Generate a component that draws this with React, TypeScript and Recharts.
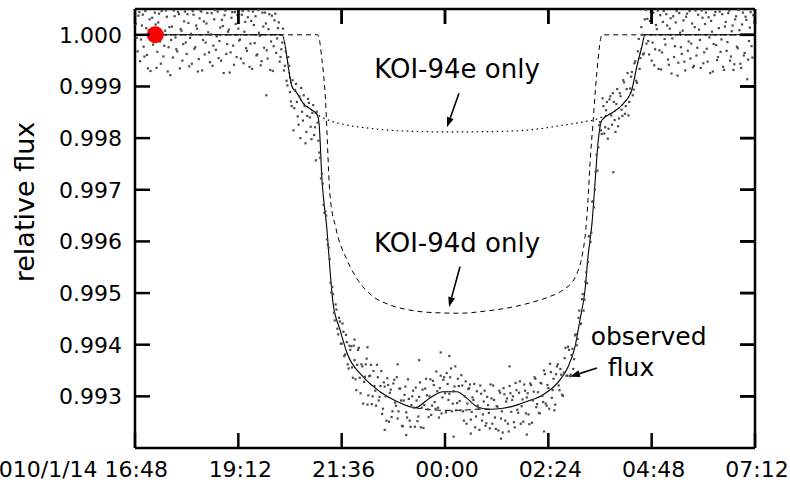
import {
  ComposedChart,
  Line,
  Scatter,
  XAxis,
  YAxis,
  ReferenceLine,
  ReferenceDot,
} from 'recharts';

// time in hours from 2010/1/14 00:00, flux relative
const xTicks = [16.8, 19.2, 21.6, 24, 26.4, 28.8, 31.2];
const xTickLabels = ['2010/1/14 16:48', '19:12', '21:36', '00:00', '02:24', '04:48', '07:12'];
const yTicks = [0.993, 0.994, 0.995, 0.996, 0.997, 0.998, 0.999, 1.0];

// model curves
const observedModel = [
  [16.8, 1.0], [20.214, 1.0], [20.446, 0.999], [20.563, 0.99887], [20.702, 0.99868],
  [20.865, 0.99857], [21.027, 0.99846], [21.074, 0.99829], [21.143, 0.99719],
  [21.259, 0.99622], [21.329, 0.99545], [21.399, 0.99481], [21.561, 0.99429],
  [21.724, 0.99384], [22.096, 0.99338], [22.49, 0.99309], [22.885, 0.9929],
  [23.303, 0.99278], [23.651, 0.99297], [23.953, 0.99309], [24.279, 0.99309],
  [24.511, 0.99296], [24.743, 0.9928], [25.045, 0.99275], [25.347, 0.99277],
  [25.626, 0.99282], [25.904, 0.9929], [26.276, 0.99303], [26.671, 0.99332],
  [26.857, 0.99357], [27.019, 0.99396], [27.135, 0.99448], [27.252, 0.99506],
  [27.321, 0.9957], [27.414, 0.99635], [27.484, 0.99713], [27.553, 0.9979],
  [27.646, 0.99835], [27.902, 0.9985], [28.134, 0.99866], [28.343, 0.99895],
  [28.459, 0.9994], [28.575, 0.99978], [28.645, 1.0], [31.2, 1.0],
];

const noCrossingModel = [
  [23.303, 0.99278], [23.65, 0.99274], [24.0, 0.99273], [24.35, 0.99273],
  [24.74, 0.99275], [25.045, 0.99275],
];

const koi94dModel = [
  [16.8, 1.0], [21.05, 1.0], [21.143, 0.99951], [21.213, 0.9989], [21.329, 0.9969],
  [21.468, 0.99625], [21.724, 0.99564], [21.979, 0.99525], [22.305, 0.99495],
  [22.722, 0.99477], [23.187, 0.99467], [23.768, 0.99462], [24.348, 0.99461],
  [24.929, 0.99465], [25.51, 0.99472], [25.974, 0.99481], [26.392, 0.99492],
  [26.741, 0.99506], [27.019, 0.9953], [27.252, 0.99608], [27.321, 0.9968],
  [27.368, 0.99751], [27.437, 0.99829], [27.53, 0.9993], [27.646, 1.0], [31.2, 1.0],
];

const koi94eModel = [
  [16.8, 1.0], [20.214, 1.0], [20.446, 0.999], [20.563, 0.99887], [20.702, 0.99868],
  [20.865, 0.99857], [21.027, 0.99846], [21.259, 0.99836], [21.677, 0.99826],
  [22.258, 0.99819], [22.955, 0.99814], [24.116, 0.99812], [25.277, 0.99813],
  [25.974, 0.99816], [26.741, 0.99825], [27.252, 0.99832], [27.53, 0.99837],
  [27.646, 0.99841], [27.902, 0.9985], [28.134, 0.99866], [28.343, 0.99895],
  [28.459, 0.9994], [28.575, 0.99978], [28.645, 1.0], [31.2, 1.0],
];

// observed points
const beforeTransit = [
  [16.82, 1.00021], [16.86, 0.99968], [16.9, 1.00044], [16.94, 0.99991], [16.98, 1.00039],
  [17.02, 0.99958], [17.06, 1.00013], [17.1, 0.99935], [17.14, 1.0003], [17.18, 1.00004],
  [17.22, 0.99981], [17.26, 1.00043], [17.3, 0.99936], [17.34, 1.00024], [17.38, 0.99987],
  [17.42, 1.00046], [17.46, 0.99958], [17.5, 1.00008], [17.54, 1.00035], [17.58, 0.99976],
  [17.62, 0.99922], [17.66, 1.00016], [17.7, 1.00047], [17.74, 0.99995], [17.78, 0.99968],
  [17.82, 1.0004], [17.86, 1.00011], [17.9, 0.9995], [17.94, 1.00026], [17.98, 0.99985],
  [18.02, 1.0004], [18.06, 0.99939], [18.1, 1.00002], [18.14, 1.00046], [18.18, 0.99973],
  [18.22, 1.00018], [18.26, 0.99929], [18.3, 1.00032], [18.34, 1.00045], [18.38, 0.9999],
  [18.42, 0.99962], [18.46, 1.00022], [18.5, 1.00005], [18.54, 0.99947], [18.58, 1.00042],
  [18.62, 0.99979], [18.66, 1.00048], [18.7, 0.99997], [18.74, 0.99955], [18.78, 1.00014],
  [18.82, 1.00029], [18.86, 0.99926], [18.9, 1.00047], [18.94, 0.99982], [18.98, 1.0001],
  [19.02, 0.99966], [19.06, 1.00044], [19.1, 0.99942], [19.14, 1.00021], [19.18, 1.00038],
  [19.22, 0.99989], [19.26, 0.99954], [19.3, 1.00046], [19.34, 1.00006], [19.38, 0.99974],
  [19.42, 1.00034], [19.46, 0.99938], [19.5, 1.00027], [19.54, 1.00045], [19.58, 0.99984],
  [19.62, 0.9996], [19.66, 1.00048], [19.7, 0.99998], [19.74, 0.99949], [19.78, 1.00016],
  [19.82, 1.00043], [19.86, 0.9997], [19.9, 1.00011], [19.94, 0.99932], [19.98, 1.00037],
  [20.02, 0.99978], [20.06, 1.00041], [20.1, 0.99993], [20.14, 1.00024], [20.18, 0.99957],
  [16.84, 0.99994], [16.88, 1.00037], [16.92, 0.99949], [16.96, 1.00018], [17.0, 0.99977],
  [17.04, 1.00046], [17.08, 0.99961], [17.12, 1.00009], [17.16, 0.9993], [17.2, 1.00033],
  [17.24, 0.99986], [17.28, 1.0002], [17.32, 0.99967], [17.36, 1.00041], [17.4, 0.99944],
  [17.44, 1.00003], [17.48, 0.99979], [17.52, 1.00047], [17.56, 0.99929], [17.6, 1.00015],
  [17.64, 0.9999], [17.68, 0.99956], [17.72, 1.00036], [17.76, 0.99972], [17.8, 1.00044],
  [17.84, 0.99935], [17.88, 1.00008], [17.92, 0.99982], [17.96, 1.00045], [18.0, 0.99963],
  [18.04, 1.00023], [18.08, 0.99994], [18.12, 0.99944], [18.16, 1.00039], [18.2, 0.99976],
  [18.24, 1.00012], [18.28, 0.99953], [18.32, 1.00047], [18.36, 0.99931], [18.4, 1.00026],
  [18.44, 0.99985], [18.48, 1.00042], [18.52, 0.99966], [18.56, 1.00001], [18.6, 0.9994],
  [18.64, 1.0003], [18.68, 0.99971], [18.72, 1.00045], [18.76, 0.99988], [18.8, 0.9995],
  [18.84, 1.00017], [18.88, 1.00038], [18.92, 0.99963], [18.96, 1.00006], [19.0, 0.99927],
  [19.04, 1.00033], [19.08, 0.99979], [19.12, 1.00044], [19.16, 0.99957], [19.2, 1.00012],
  [19.24, 0.99991], [19.28, 1.00039], [19.32, 0.99945], [19.36, 1.00025], [19.4, 0.99969],
  [19.44, 1.00047], [19.48, 0.99983], [19.52, 0.99934], [19.56, 1.00019], [19.6, 1.00036],
  [19.64, 0.99962], [19.68, 1.00004], [19.72, 0.99941], [19.76, 1.00043], [19.8, 0.99975],
  [19.84, 1.00022], [19.88, 0.99954], [19.92, 1.0004], [19.96, 0.99987], [20.0, 0.9993],
  [20.04, 1.00028], [20.08, 0.99965], [20.12, 1.00013], [20.16, 0.99948], [19.85, 0.99883],
];

const ingressPoints = [
  [20.22, 0.99985], [20.26, 0.99931], [20.3, 0.99968], [20.34, 0.99902], [20.38, 0.9994],
  [20.42, 0.99871], [20.46, 0.99912], [20.5, 0.99858], [20.54, 0.99905], [20.58, 0.99842],
  [20.62, 0.99881], [20.66, 0.99897], [20.7, 0.99834], [20.74, 0.99862], [20.78, 0.99812],
  [20.82, 0.99876], [20.86, 0.9984], [20.9, 0.99798], [20.94, 0.99864], [20.98, 0.99821],
  [21.02, 0.99851], [21.06, 0.99795], [21.1, 0.99762], [21.14, 0.99731], [21.18, 0.99671],
  [21.22, 0.99658], [21.26, 0.99604], [21.3, 0.99588], [21.34, 0.9952], [21.38, 0.99512],
  [21.42, 0.99462], [21.46, 0.99478], [21.5, 0.99431], [21.54, 0.99452], [21.58, 0.99402],
  [21.62, 0.99441], [21.66, 0.99378], [21.7, 0.99419], [21.74, 0.99362], [21.78, 0.99398],
  [20.2, 0.99972], [20.24, 1.00012], [20.28, 0.9994], [20.32, 0.99911], [20.36, 0.99957],
  [20.4, 0.99889], [20.44, 0.99862], [20.48, 0.99815], [20.52, 0.99893], [20.56, 0.9987],
  [20.6, 0.99826], [20.64, 0.998], [20.68, 0.99851], [20.72, 0.99883], [20.76, 0.9979],
  [20.8, 0.99843], [20.84, 0.99868], [20.88, 0.99822], [20.92, 0.99849], [20.96, 0.99806],
  [21.0, 0.99757], [21.04, 0.9983], [21.08, 0.99772], [21.12, 0.99722], [21.16, 0.99712],
  [21.2, 0.99655], [21.24, 0.9965], [21.28, 0.99593], [21.32, 0.99566], [21.36, 0.99501],
  [21.4, 0.99498], [21.44, 0.99447], [21.48, 0.99468], [21.52, 0.9942], [21.56, 0.99445],
  [21.6, 0.99402], [21.64, 0.99425], [21.68, 0.99381], [21.72, 0.99405], [21.76, 0.99354],
  [21.8, 0.9939],
];

const bottomPoints = [
  [21.82, 0.99397], [21.86, 0.99336], [21.9, 0.9937], [21.94, 0.99312], [21.98, 0.9939],
  [22.02, 0.99336], [22.06, 0.99362], [22.1, 0.99286], [22.14, 0.99338], [22.18, 0.99373],
  [22.22, 0.99302], [22.26, 0.9934], [22.3, 0.99285], [22.34, 0.99349], [22.38, 0.99311],
  [22.42, 0.99361], [22.46, 0.99292], [22.5, 0.9932], [22.54, 0.99266], [22.58, 0.99327],
  [22.62, 0.993], [22.66, 0.99335], [22.7, 0.99251], [22.74, 0.99313], [22.78, 0.99271],
  [22.82, 0.99332], [22.86, 0.99282], [22.9, 0.99257], [22.94, 0.99315], [22.98, 0.99292],
  [23.02, 0.99242], [23.06, 0.99303], [23.1, 0.99269], [23.14, 0.99333], [23.18, 0.99253],
  [23.22, 0.99283], [23.26, 0.99311], [23.3, 0.99241], [23.34, 0.99292], [23.38, 0.99261],
  [23.42, 0.99327], [23.46, 0.99278], [23.5, 0.99239], [23.54, 0.99315], [23.58, 0.99302],
  [23.62, 0.9926], [23.66, 0.99333], [23.7, 0.99282], [23.74, 0.99322], [23.78, 0.99276],
  [23.82, 0.9931], [23.86, 0.99259], [23.9, 0.9934], [23.94, 0.99298], [23.98, 0.99337],
  [24.02, 0.99269], [24.06, 0.99324], [24.1, 0.99305], [24.14, 0.99354], [24.18, 0.99286],
  [24.22, 0.99319], [24.26, 0.99273], [24.3, 0.99334], [24.34, 0.99291], [24.38, 0.99341],
  [24.42, 0.99271], [24.46, 0.993], [24.5, 0.99247], [24.54, 0.99314], [24.58, 0.99323],
  [24.62, 0.9927], [24.66, 0.99293], [24.7, 0.9924], [24.74, 0.9931], [24.78, 0.99277],
  [24.82, 0.99321], [24.86, 0.99253], [24.9, 0.9929], [24.94, 0.99243], [24.98, 0.99299],
  [25.02, 0.99268], [25.06, 0.99323], [25.1, 0.99247], [25.14, 0.99293], [25.18, 0.99237],
  [25.22, 0.9928], [25.26, 0.99311], [25.3, 0.99257], [25.34, 0.9923], [25.38, 0.99304],
  [25.42, 0.9929], [25.46, 0.99247], [25.5, 0.9932], [25.54, 0.9927], [25.58, 0.993],
  [25.62, 0.9924], [25.66, 0.99312], [25.7, 0.99268], [25.74, 0.99329], [25.78, 0.99281],
  [25.82, 0.99251], [25.86, 0.99311], [25.9, 0.99298], [25.94, 0.99265], [25.98, 0.99325],
  [26.02, 0.99249], [26.06, 0.99309], [26.1, 0.99334], [26.14, 0.99285], [26.18, 0.99268],
  [26.22, 0.99326], [26.26, 0.99301], [26.3, 0.9935], [26.34, 0.99286], [26.38, 0.99322],
  [26.42, 0.99276], [26.46, 0.99347], [26.5, 0.99312], [26.54, 0.99273], [26.58, 0.99343],
  [26.62, 0.99362], [26.66, 0.99312], [26.7, 0.99342], [26.74, 0.99301], [26.78, 0.99374],
  [26.82, 0.9934], [26.86, 0.99396], [26.9, 0.99339], [26.94, 0.9938], [26.98, 0.99353],
  [27.02, 0.99418], [27.06, 0.99399], [27.1, 0.99452], [27.14, 0.9944],
  [21.84, 0.99356], [21.88, 0.99398], [21.92, 0.99333], [21.96, 0.99361], [22.0, 0.99394],
  [22.04, 0.99306], [22.08, 0.99358], [22.12, 0.99328], [22.16, 0.99362], [22.2, 0.99284],
  [22.24, 0.99339], [22.28, 0.99361], [22.32, 0.993], [22.36, 0.9932], [22.4, 0.99282],
  [22.44, 0.99337], [22.48, 0.99299], [22.52, 0.99349], [22.56, 0.99276], [22.6, 0.99319],
  [22.64, 0.99253], [22.68, 0.99322], [22.72, 0.99307], [22.76, 0.9926], [22.8, 0.99325],
  [22.84, 0.99288], [22.88, 0.99337], [22.92, 0.99271], [22.96, 0.99315], [23.0, 0.99243],
  [23.04, 0.99292], [23.08, 0.99319], [23.12, 0.99259], [23.16, 0.99295], [23.2, 0.99241],
  [23.24, 0.993], [23.28, 0.99278], [23.32, 0.99317], [23.36, 0.99252], [23.4, 0.99299],
  [23.44, 0.9924], [23.48, 0.99313], [23.52, 0.99283], [23.56, 0.99334], [23.6, 0.99275],
  [23.64, 0.993], [23.68, 0.99264], [23.72, 0.9933], [23.76, 0.99289], [23.8, 0.99348],
  [23.84, 0.99278], [23.88, 0.99316], [23.92, 0.99267], [23.96, 0.99332], [24.0, 0.99306],
  [24.04, 0.99345], [24.08, 0.99293], [24.12, 0.99337], [24.16, 0.99271], [24.2, 0.9931],
  [24.24, 0.99358], [24.28, 0.99287], [24.32, 0.9932], [24.36, 0.99273], [24.4, 0.99321],
  [24.44, 0.99253], [24.48, 0.99329], [24.52, 0.99286], [24.56, 0.99316], [24.6, 0.99255],
  [24.64, 0.99298], [24.68, 0.99324], [24.72, 0.99261], [24.76, 0.99282], [24.8, 0.99235],
  [24.84, 0.99305], [24.88, 0.99265], [24.92, 0.99311], [24.96, 0.99248], [25.0, 0.99283],
  [25.04, 0.99238], [25.08, 0.99296], [25.12, 0.99321], [25.16, 0.99259], [25.2, 0.99281],
  [25.24, 0.99234], [25.28, 0.99307], [25.32, 0.99271], [25.36, 0.99316], [25.4, 0.99253],
  [25.44, 0.99296], [25.48, 0.99232], [25.52, 0.99306], [25.56, 0.99293], [25.6, 0.9925],
  [25.64, 0.99326], [25.68, 0.99274], [25.72, 0.99307], [25.76, 0.99247], [25.8, 0.99294],
  [25.84, 0.99323], [25.88, 0.99267], [25.92, 0.99306], [25.96, 0.99246], [26.0, 0.99322],
  [26.04, 0.99292], [26.08, 0.99337], [26.12, 0.99279], [26.16, 0.99308], [26.2, 0.99267],
  [26.24, 0.99325], [26.28, 0.99289], [26.32, 0.99343], [26.36, 0.99282], [26.4, 0.99316],
  [26.44, 0.99363], [26.48, 0.99297], [26.52, 0.99334], [26.56, 0.99284], [26.6, 0.99358],
  [26.64, 0.99321], [26.68, 0.99353], [26.72, 0.99303], [26.76, 0.99346], [26.8, 0.99394],
  [26.84, 0.9934], [26.88, 0.9939], [26.92, 0.99342], [26.96, 0.99392], [27.0, 0.99372],
  [27.04, 0.9942], [27.08, 0.99411], [27.12, 0.99466],
  [23.1, 0.99225], [24.2, 0.99222], [25.3, 0.99218], [25.9, 0.99226], [22.6, 0.99235],
  [24.6, 0.99228], [26.3, 0.99232], [23.9, 0.99385], [24.1, 0.99378], [22.9, 0.99362],
  [23.4, 0.9937], [25.5, 0.99358], [22.2, 0.99395], [21.9, 0.9941],
];

const egressPoints = [
  [27.18, 0.99488], [27.22, 0.99466], [27.26, 0.99522], [27.3, 0.99519], [27.34, 0.9961],
  [27.38, 0.99599], [27.42, 0.99677], [27.46, 0.99666], [27.5, 0.99735], [27.54, 0.99737],
  [27.58, 0.99825], [27.62, 0.99815], [27.66, 0.99877], [27.7, 0.99809], [27.74, 0.99854],
  [27.78, 0.99799], [27.82, 0.99875], [27.86, 0.99844], [27.9, 0.99887], [27.94, 0.99835],
  [27.98, 0.99866], [28.02, 0.99823], [28.06, 0.99887], [28.1, 0.99855], [28.14, 0.99912],
  [28.18, 0.99847], [28.22, 0.99895], [28.26, 0.99844], [28.3, 0.99896], [28.34, 0.99928],
  [28.38, 0.99894], [28.42, 0.99949], [28.46, 0.99907], [28.5, 0.99992], [28.54, 0.99955],
  [28.58, 1.0], [28.62, 0.99964], [28.66, 1.00048],
  [27.16, 0.99441], [27.2, 0.99498], [27.24, 0.99487], [27.28, 0.9954], [27.32, 0.9956],
  [27.36, 0.9961], [27.4, 0.99617], [27.44, 0.99678], [27.48, 0.997], [27.52, 0.99768],
  [27.56, 0.99782], [27.6, 0.99831], [27.64, 0.99808], [27.68, 0.99862], [27.72, 0.99821],
  [27.76, 0.9987], [27.8, 0.99818], [27.84, 0.99881], [27.88, 0.99826], [27.92, 0.9987],
  [27.96, 0.99812], [28.0, 0.99895], [28.04, 0.99838], [28.08, 0.99881], [28.12, 0.99843],
  [28.16, 0.99908], [28.2, 0.99862], [28.24, 0.99926], [28.28, 0.9987], [28.32, 0.99919],
  [28.36, 0.99883], [28.4, 0.99945], [28.44, 0.99911], [28.48, 0.99968], [28.52, 0.99934],
  [28.56, 1.00015], [28.6, 0.99962], [28.64, 1.0003], [28.68, 0.99983], [27.91, 0.99734],
];

const afterTransit = [
  [28.7, 1.00031], [28.74, 0.99962], [28.78, 1.00044], [28.82, 0.99985], [28.86, 0.99941],
  [28.9, 1.00019], [28.94, 1.00047], [28.98, 0.9997], [29.02, 0.99933], [29.06, 1.00025],
  [29.1, 0.99992], [29.14, 1.0004], [29.18, 0.99952], [29.22, 1.00012], [29.26, 0.99925],
  [29.3, 1.00036], [29.34, 0.99978], [29.38, 1.00046], [29.42, 0.99946], [29.46, 1.00004],
  [29.5, 0.99963], [29.54, 1.00028], [29.58, 0.99931], [29.62, 1.00041], [29.66, 0.99987],
  [29.7, 0.99954], [29.74, 1.00022], [29.78, 0.9994], [29.82, 1.00047], [29.86, 0.99975],
  [29.9, 1.0001], [29.94, 0.99936], [29.98, 1.00033], [30.02, 0.99966], [30.06, 1.00043],
  [30.1, 0.99948], [30.14, 0.99995], [30.18, 1.00027], [30.22, 0.99929], [30.26, 1.00038],
  [30.3, 0.9998], [30.34, 0.99957], [30.38, 1.00045], [30.42, 0.99991], [30.46, 0.99938],
  [30.5, 1.00016], [30.54, 0.99969], [30.58, 1.00042], [30.62, 0.9995], [30.66, 1.00007],
  [30.7, 0.99932], [30.74, 1.0003], [30.78, 0.99977], [30.82, 1.00048], [30.86, 0.99944],
  [30.9, 1.0002], [30.94, 0.9996], [30.98, 1.00035], [31.02, 0.99914], [31.06, 0.99988],
  [31.1, 1.00044], [31.14, 0.99956], [31.18, 1.00025],
  [28.72, 0.99988], [28.76, 1.00027], [28.8, 0.9995], [28.84, 1.00043], [28.88, 0.99972],
  [28.92, 1.00011], [28.96, 0.99934], [29.0, 1.00038], [29.04, 0.99966], [29.08, 1.00046],
  [29.12, 0.99981], [29.16, 1.00018], [29.2, 0.99942], [29.24, 1.00032], [29.28, 0.99993],
  [29.32, 0.99957], [29.36, 1.00024], [29.4, 0.99921], [29.44, 1.00042], [29.48, 0.99976],
  [29.52, 1.00008], [29.56, 0.99948], [29.6, 1.00035], [29.64, 0.99969], [29.68, 1.00046],
  [29.72, 0.99983], [29.76, 0.99937], [29.8, 1.00015], [29.84, 0.9996], [29.88, 1.00039],
  [29.92, 0.9999], [29.96, 1.00047], [30.0, 0.99945], [30.04, 1.00021], [30.08, 0.99973],
  [30.12, 1.00034], [30.16, 0.99926], [30.2, 1.00006], [30.24, 0.99982], [30.28, 1.00044],
  [30.32, 0.99951], [30.36, 1.00013], [30.4, 0.99967], [30.44, 1.0004], [30.48, 0.99932],
  [30.52, 1.00025], [30.56, 0.99986], [30.6, 1.00047], [30.64, 0.99958], [30.68, 1.00018],
  [30.72, 0.99943], [30.76, 1.00036], [30.8, 0.99974], [30.84, 1.00009], [30.88, 0.99936],
  [30.92, 1.00043], [30.96, 0.99965], [31.0, 1.00029], [31.04, 0.99952], [31.08, 1.00014],
  [31.12, 0.99978], [31.16, 1.00038],
];

const markedPoint = [[17.27, 1.0]];

const toRows = (pts: number[][]) => pts.map(([t, f]) => ({ t, f }));

const FONT = '"DejaVu Sans", sans-serif';
const TICK_LEN = 15;
const AXIS_W = 2.5;
const X_DOMAIN = [16.8, 31.2];
const Y_DOMAIN = [0.992, 1.0005];

const CHART_W = 790;
const CHART_H = 482;
const MARGIN = { top: 9, right: 35, bottom: 0, left: 0 };
const Y_AXIS_W = 135;
const X_AXIS_H = 34;
const Y_LABEL_GAP = 13;
const PLOT_W = CHART_W - MARGIN.left - MARGIN.right - Y_AXIS_W;
const PLOT_H = CHART_H - MARGIN.top - MARGIN.bottom - X_AXIS_H;

// anchors for the mirrored inward ticks along the top and right edges
const topTickAnchors = xTicks.slice(1, -1).map((t) => ({ t, f: Y_DOMAIN[1] }));
const rightTickAnchors = yTicks.map((f) => ({ t: X_DOMAIN[1], f }));

function LeftTick({ x, y, payload }: any) {
  const axisX = x + Y_LABEL_GAP;
  return (
    <g>
      <line x1={axisX} y1={y} x2={axisX + TICK_LEN} y2={y} stroke="#000" strokeWidth={AXIS_W} />
      <line
        x1={axisX + PLOT_W}
        y1={y}
        x2={axisX + PLOT_W - TICK_LEN}
        y2={y}
        stroke="#000"
        strokeWidth={AXIS_W}
      />
      <text x={x} y={y} dy="0.36em" textAnchor="end" fontSize={22} fontFamily={FONT} fill="#000">
        {Number(payload.value).toFixed(3)}
      </text>
    </g>
  );
}

function BottomTick({ x, y, payload }: any) {
  const i = xTicks.findIndex((v) => Math.abs(v - payload.value) < 1e-6);
  const first = i === 0;
  return (
    <g>
      <line x1={x} y1={y} x2={x} y2={y - TICK_LEN} stroke="#000" strokeWidth={AXIS_W} />
      <line
        x1={x}
        y1={y - PLOT_H}
        x2={x}
        y2={y - PLOT_H + TICK_LEN}
        stroke="#000"
        strokeWidth={AXIS_W}
      />
      <text
        x={first ? x + 33 : x + 2}
        y={y + 29}
        textAnchor={first ? 'end' : 'middle'}
        fontSize={22}
        fontFamily={FONT}
        fill="#000"
      >
        {xTickLabels[i]}
      </text>
    </g>
  );
}

const topTickShape = (p: any) => (
  <line x1={p.cx} y1={p.cy} x2={p.cx} y2={p.cy + TICK_LEN} stroke="#000" strokeWidth={AXIS_W} />
);

const rightTickShape = (p: any) => (
  <line x1={p.cx} y1={p.cy} x2={p.cx - TICK_LEN} y2={p.cy} stroke="#000" strokeWidth={AXIS_W} />
);

const Arrow = ({ x1, y1, x2, y2 }: any) => {
  const ang = Math.atan2(y2 - y1, x2 - x1);
  const len = 10;
  const half = 3.5;
  const bx = x2 - len * Math.cos(ang);
  const by = y2 - len * Math.sin(ang);
  const px = -Math.sin(ang) * half;
  const py = Math.cos(ang) * half;
  return (
    <g>
      <line x1={x1} y1={y1} x2={bx} y2={by} stroke="#000" strokeWidth={1.6} />
      <polygon points={`${x2},${y2} ${bx + px},${by + py} ${bx - px},${by - py}`} fill="#000" />
    </g>
  );
};

const note = (text: string, size: number) => (p: any) => (
  <text x={p.cx} y={p.cy} textAnchor="middle" fontSize={size} fontFamily={FONT} fill="#000">
    {text}
  </text>
);

const dotShape = (p: any) => (
  <rect x={p.cx - 1.1} y={p.cy - 1.1} width={2.2} height={2.2} fill="#4a4a4a" />
);

const redShape = (p: any) => <circle cx={p.cx} cy={p.cy} r={8.5} fill="#ff0000" />;

export default function App() {
  const points = toRows([
    ...beforeTransit,
    ...ingressPoints,
    ...bottomPoints,
    ...egressPoints,
    ...afterTransit,
  ]);

  return (
    <div style={{ position: 'absolute', left: 0, top: 0, width: CHART_W, height: CHART_H, background: '#fff' }}>
      <ComposedChart width={CHART_W} height={CHART_H} margin={MARGIN}>
        <XAxis
          dataKey="t"
          type="number"
          domain={X_DOMAIN}
          ticks={xTicks}
          interval={0}
          allowDataOverflow
          height={X_AXIS_H}
          tickSize={0}
          tickMargin={0}
          tickLine={false}
          axisLine={{ stroke: '#000', strokeWidth: AXIS_W }}
          tick={<BottomTick />}
        />
        <YAxis
          type="number"
          domain={Y_DOMAIN}
          ticks={yTicks}
          interval={0}
          allowDataOverflow
          width={Y_AXIS_W}
          tickSize={0}
          tickMargin={Y_LABEL_GAP}
          tickLine={false}
          axisLine={{ stroke: '#000', strokeWidth: AXIS_W }}
          tick={<LeftTick />}
          label={() => (
            <text
              x={24}
              y={202}
              transform="rotate(-90 24 202)"
              textAnchor="middle"
              dominantBaseline="central"
              fontSize={27}
              fontFamily={FONT}
              fill="#000"
            >
              relative flux
            </text>
          )}
        />

        <Scatter data={points} dataKey="f" shape={dotShape} isAnimationActive={false} />

        <Line
          data={toRows(koi94dModel)}
          dataKey="f"
          type="monotone"
          stroke="#000"
          strokeWidth={1}
          strokeDasharray="5 4"
          dot={false}
          isAnimationActive={false}
        />
        <Line
          data={toRows(koi94eModel)}
          dataKey="f"
          type="monotone"
          stroke="#000"
          strokeWidth={1.2}
          strokeDasharray="1.5 3.5"
          dot={false}
          isAnimationActive={false}
        />
        <Line
          data={toRows(noCrossingModel)}
          dataKey="f"
          type="monotone"
          stroke="#000"
          strokeWidth={1}
          strokeDasharray="6 4"
          dot={false}
          isAnimationActive={false}
        />
        <Line
          data={toRows(observedModel)}
          dataKey="f"
          type="monotone"
          stroke="#000"
          strokeWidth={1.1}
          dot={false}
          isAnimationActive={false}
        />

        <Scatter data={toRows(markedPoint)} dataKey="f" shape={redShape} isAnimationActive={false} />

        {/* frame on top and right, drawn at the domain edges, with inward ticks */}
        <ReferenceLine y={Y_DOMAIN[1]} stroke="#000" strokeWidth={AXIS_W} ifOverflow="visible" />
        <ReferenceLine x={X_DOMAIN[1]} stroke="#000" strokeWidth={AXIS_W} ifOverflow="visible" />
        <Scatter data={topTickAnchors} dataKey="f" shape={topTickShape} isAnimationActive={false} />
        <Scatter data={rightTickAnchors} dataKey="f" shape={rightTickShape} isAnimationActive={false} />

        <ReferenceLine segment={[{ x: 24.325, y: 0.99887 }, { x: 24.046, y: 0.99821 }]} shape={Arrow} />
        <ReferenceLine segment={[{ x: 24.348, y: 0.99551 }, { x: 24.093, y: 0.99473 }]} shape={Arrow} />
        <ReferenceLine segment={[{ x: 27.53, y: 0.99355 }, { x: 26.903, y: 0.99338 }]} shape={Arrow} />

        <ReferenceDot x={24.28} y={0.99916} r={0} shape={note('KOI-94e only', 26)} />
        <ReferenceDot x={24.28} y={0.9958} r={0} shape={note('KOI-94d only', 26)} />
        <ReferenceDot x={28.73} y={0.994} r={0} shape={note('observed', 25)} />
        <ReferenceDot x={28.32} y={0.9934} r={0} shape={note('flux', 25)} />
      </ComposedChart>
    </div>
  );
}
